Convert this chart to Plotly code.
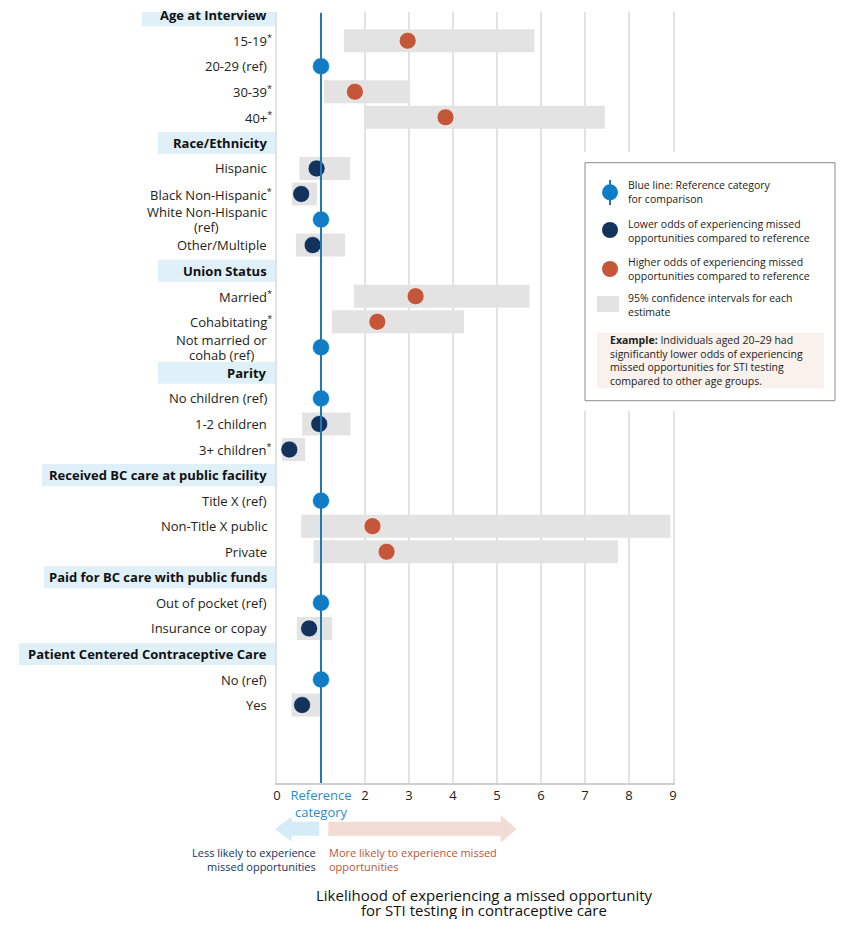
import plotly.graph_objects as go

# Data (odds ratios and 95% CIs)
groups = ["Age at Interview", "Race/Ethnicity", "Union Status", "Parity",
          "Received BC care at public facility", "Paid for BC care with public funds",
          "Patient Centered Contraceptive Care"]
row_labels = ["15-19", "20-29 (ref)", "30-39", "40+",
              "Hispanic", "Black Non-Hispanic", "White Non-Hispanic<br>(ref)", "Other/Multiple",
              "Married", "Cohabitating", "Not married or<br>cohab (ref)",
              "No children (ref)", "1-2 children", "3+ children",
              "Title X (ref)", "Non-Title X public", "Private",
              "Out of pocket (ref)", "Insurance or copay",
              "No (ref)", "Yes"]
row_group = [0, 0, 0, 0, 1, 1, 1, 1, 2, 2, 2, 3, 3, 3, 4, 4, 4, 5, 5, 6, 6]
odds = [2.97, 1, 1.77, 3.83, 0.90, 0.55, 1, 0.81, 3.15, 2.28, 1,
        1, 0.96, 0.28, 1, 2.17, 2.49, 1, 0.73, 1, 0.57]
ci_low = [1.52, None, 1.07, 2.00, 0.51, 0.34, None, 0.43, 1.75, 1.25, None,
          None, 0.57, 0.11, None, 0.55, 0.83, None, 0.45, None, 0.33]
ci_high = [5.85, None, 3.02, 7.45, 1.66, 0.91, None, 1.55, 5.74, 4.25, None,
           None, 1.67, 0.64, None, 8.94, 7.75, None, 1.25, None, 0.98]
significant = [1, 0, 1, 1, 0, 1, 0, 0, 1, 1, 0, 0, 0, 1, 0, 0, 0, 0, 0, 0, 0]
x_ticks = [0, 1, 2, 3, 4, 5, 6, 7, 8, 9]

REF_BLUE = "#0d7dc9"
LINE_BLUE = "#1f78b8"
NAVY = "#14335c"
ORANGE = "#c4573a"
CI_GRAY = "#e3e3e3"
HEAD_BG = "#dff0f9"
FONT = "Open Sans"

# page body has an 8px margin, so the figure is shrunk and shifted by that
OFF = 8
W, H = 850 - 2 * OFF, 927 - 2 * OFF
# plot area in reference-picture pixels
L, R, T, B = 277, 673, 12, 783


def xp(px):
    return (px - L) / (R - L)


def yp(py):
    return (B - py) / (B - T)


# slot positions: each group header takes one slot, then its rows
header_slot = []
row_slot = []
s = 0
for g in range(len(groups)):
    header_slot.append(s)
    s += 1
    for i, rg in enumerate(row_group):
        if rg == g:
            row_slot.append(s)
            s += 1

kind = []
for lab, o in zip(row_labels, odds):
    if "(ref)" in lab:
        kind.append("ref")
    elif o < 1:
        kind.append("lower")
    else:
        kind.append("higher")

fig = go.Figure()

# confidence interval bars
ci_idx = [i for i in range(len(odds)) if ci_low[i] is not None]
fig.add_trace(go.Bar(
    orientation="h",
    y=[row_slot[i] for i in ci_idx],
    x=[ci_high[i] - ci_low[i] for i in ci_idx],
    base=[ci_low[i] for i in ci_idx],
    width=0.9, marker_color=CI_GRAY, marker_line_width=0,
    showlegend=False, hoverinfo="skip"))

colors = {"ref": REF_BLUE, "lower": NAVY, "higher": ORANGE}
for k in ["ref", "lower", "higher"]:
    idx = [i for i in range(len(odds)) if kind[i] == k]
    fig.add_trace(go.Scatter(
        x=[odds[i] for i in idx], y=[row_slot[i] for i in idx],
        mode="markers",
        marker=dict(size=17, color=colors[k], line=dict(width=1, color="rgba(255,255,255,0.6)")),
        showlegend=False))

shapes = []
ann = []

# reference line at 1
shapes.append(dict(type="line", xref="x", yref="paper", x0=1, x1=1, y0=0, y1=yp(13),
                   line=dict(color=LINE_BLUE, width=2), layer="above"))

# group headers
head_left = [142, 158, 158, 158, 42, 44, 19]
for g, name in enumerate(groups):
    sl = header_slot[g]
    shapes.append(dict(type="rect", xref="paper", yref="y", x0=xp(head_left[g]), x1=0,
                       y0=sl - 0.43, y1=sl + 0.43, fillcolor=HEAD_BG, line_width=0, layer="below"))
    ann.append(dict(xref="paper", yref="y", x=0, y=sl, xanchor="right", yanchor="middle",
                    xshift=-8, text="<b>" + name + "</b>", showarrow=False,
                    font=dict(family=FONT, size=13, color="#111")))

# row labels; two-line labels are set line by line to keep them tight
second_line_center = {6: 206, 10: 221.5}
for i, lab in enumerate(row_labels):
    star = "<sup>*</sup>" if significant[i] else ""
    lines = lab.split("<br>")
    lab_font = dict(family=FONT, size=13, color="#222")
    if len(lines) == 1:
        ann.append(dict(xref="paper", yref="y", x=0, y=row_slot[i], xanchor="right", yanchor="middle",
                        xshift=-3 if star else -8, text=lines[0] + star, showarrow=False, font=lab_font))
    else:
        ann.append(dict(xref="paper", yref="y", x=0, y=row_slot[i] - 0.3, xanchor="right",
                        yanchor="middle", xshift=-8, text=lines[0], showarrow=False, font=lab_font))
        ann.append(dict(xref="paper", yref="y", x=xp(second_line_center[i]), y=row_slot[i] + 0.3,
                        xanchor="center", yanchor="middle", text=lines[1], showarrow=False, font=lab_font))

# legend box
shapes.append(dict(type="rect", xref="paper", yref="paper", x0=xp(575), x1=xp(845),
                   y0=yp(411), y1=yp(152), fillcolor="white", line_width=0, layer="above"))
shapes.append(dict(type="rect", xref="paper", yref="paper", x0=xp(585), x1=xp(835),
                   y0=yp(400.7), y1=yp(162.7), fillcolor="white",
                   line=dict(color="#8c8c8c", width=1), layer="above"))
shapes.append(dict(type="line", xref="paper", yref="paper", x0=xp(610), x1=xp(610),
                   y0=yp(205), y1=yp(180), line=dict(color=LINE_BLUE, width=2), layer="above"))
for cy, col in [(192.3, REF_BLUE), (230, NAVY), (269, ORANGE)]:
    shapes.append(dict(type="circle", xref="paper", yref="paper", xsizemode="pixel", ysizemode="pixel",
                       xanchor=xp(610), yanchor=yp(cy), x0=-8, x1=8, y0=-8, y1=8,
                       fillcolor=col, line_width=0, layer="above"))
shapes.append(dict(type="rect", xref="paper", yref="paper", x0=xp(597), x1=xp(619),
                   y0=yp(312), y1=yp(296), fillcolor=CI_GRAY, line_width=0, layer="above"))
shapes.append(dict(type="rect", xref="paper", yref="paper", x0=xp(597), x1=xp(824),
                   y0=yp(388.3), y1=yp(332.7), fillcolor="#f8f1ec", line_width=0, layer="above"))

legend_texts = [
    (192.5, "Blue line: Reference category<br>for comparison"),
    (231.3, "Lower odds of experiencing missed<br>opportunities compared to reference"),
    (269, "Higher odds of experiencing missed<br>opportunities compared to reference"),
    (305, "95% confidence intervals for each<br>estimate"),
]
for cy, txt in legend_texts:
    ann.append(dict(xref="paper", yref="paper", x=xp(626), y=yp(cy), xanchor="left", yanchor="middle",
                    text=txt, align="left", showarrow=False,
                    font=dict(family=FONT, size=10.5, color="#222")))
ann.append(dict(xref="paper", yref="paper", x=xp(608), y=yp(360.3), xanchor="left", yanchor="middle",
                text="<b>Example:</b> Individuals aged 20–29 had<br>significantly lower odds of experiencing"
                     "<br>missed opportunities for STI testing<br>compared to other age groups.",
                align="left", showarrow=False, font=dict(family=FONT, size=10.5, color="#222")))


# arrows under the axis
def path(points):
    return "M " + " L ".join(f"{xp(a)},{yp(b)}" for a, b in points) + " Z"


shapes.append(dict(type="path", xref="paper", yref="paper", layer="above", line_width=0,
                   fillcolor="#d5ebf8",
                   path=path([(275, 829), (291.7, 816.7), (291.7, 821.7), (319.3, 821.7),
                              (319.3, 835.7), (291.7, 835.7), (291.7, 841.7)])))
shapes.append(dict(type="path", xref="paper", yref="paper", layer="above", line_width=0,
                   fillcolor="#f2dcd4",
                   path=path([(328.3, 821.7), (500.7, 821.7), (500.7, 815), (516.7, 829),
                              (500.7, 842.7), (500.7, 835.7), (328.3, 835.7)])))
ann.append(dict(xref="paper", yref="paper", x=xp(318), y=yp(859), xanchor="right", yanchor="middle",
                text="Less likely to experience<br>missed opportunities", align="right", showarrow=False,
                font=dict(family=FONT, size=11, color=NAVY)))
ann.append(dict(xref="paper", yref="paper", x=xp(327), y=yp(859), xanchor="left", yanchor="middle",
                text="More likely to experience missed<br>opportunities", align="left", showarrow=False,
                font=dict(family=FONT, size=11, color="#b9563a")))

# axis title, one annotation per line so the second line stays inside the page
title_lines = ["Likelihood of experiencing a missed opportunity", "for STI testing in contraceptive care"]
for cy, txt in zip([895, 910], title_lines):
    ann.append(dict(xref="paper", yref="paper", x=xp(484), y=yp(cy), xanchor="center", yanchor="middle",
                    text=txt, showarrow=False, font=dict(family=FONT, size=15, color="#111")))

tick_text = [str(t) for t in x_ticks]
tick_text[1] = '<span style="color:#2b8ccc">Reference<br>category</span>'

fig.update_layout(
    width=W, height=H,
    margin=dict(l=L - OFF, r=W - (R - OFF), t=T - OFF, b=H - (B - OFF)),
    plot_bgcolor="white", paper_bgcolor="white",
    barmode="overlay", showlegend=False,
    font=dict(family=FONT, size=13, color="#222"),
    shapes=shapes, annotations=ann,
    xaxis=dict(range=[0, 9], tickvals=x_ticks, ticktext=tick_text, showgrid=True,
               gridcolor="#e2e2e2", gridwidth=1.5, zeroline=False, showline=True,
               linecolor="#cfcfcf", linewidth=1.5, ticks="", fixedrange=True,
               tickfont=dict(family=FONT, size=13, color="#222")),
    yaxis=dict(range=[30.05, -0.123], showticklabels=False, showgrid=False, zeroline=False,
               showline=True, mirror=True, linecolor="#e2e2e2", linewidth=1.5, fixedrange=True),
)

fig.write_html("out.html")
